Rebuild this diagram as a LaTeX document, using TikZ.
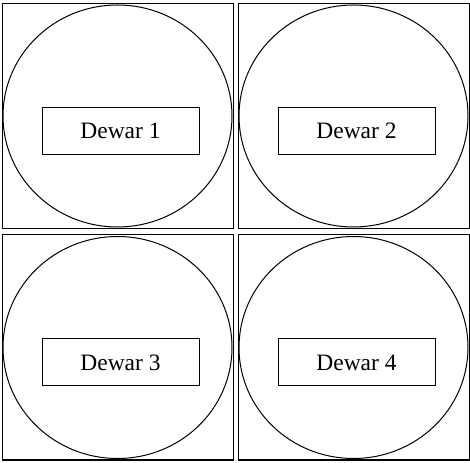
\documentclass[tikz,border=0pt]{standalone}
\usepackage{fontspec}
\setmainfont{Liberation Serif}
\usetikzlibrary{positioning}
\usetikzlibrary{calc}

\begin{document}
\begin{tikzpicture}[x=1pt,y=1pt,line width=1pt,
		outer box/.style={draw, inner sep=0pt, minimum width=231pt, minimum height=225pt},
		name box/.style={draw, inner sep=0pt, minimum width=157pt, minimum height=47pt,
			font=\fontsize{23.5}{28}\selectfont}]
		\useasboundingbox (0,0) rectangle (470,462);
		% Define the centres of the dewars
		\coordinate (C1) at (117.5,346);
		\coordinate (C2) at (353.5,346);
		\coordinate (C3) at (117.5,114.5);
		\coordinate (C4) at (353.5,114.5);

		\foreach \point/\num in {C1/1, C2/2, C3/3, C4/4}
		{
			\node[outer box] (dewar\num) at (\point) {};
			\draw (\point) ellipse (114.5 and 111);
			\node[name box] (label\num) at ($(\point)+(3,-15)$) {Dewar \num};
		}
	\end{tikzpicture}
\end{document}
